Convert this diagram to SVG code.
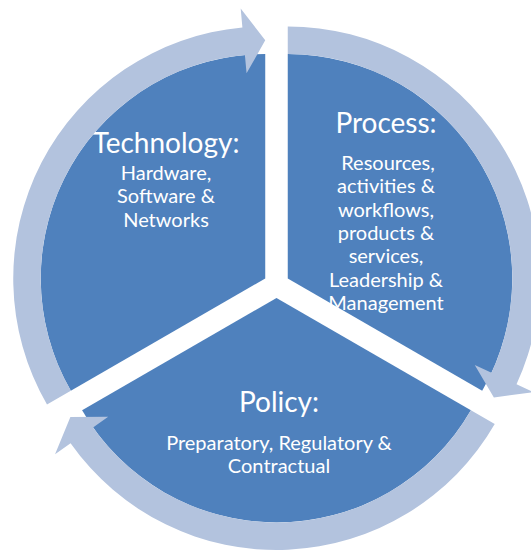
<svg xmlns="http://www.w3.org/2000/svg" width="531" height="551" viewBox="0 0 531 551">
  <style>
    .sector { fill: #4F81BD; }
    .ring { fill: #B3C3DE; }
    .title { font-family: Lato, "Open Sans", sans-serif; font-size: 28px; fill: #FFFFFF; text-anchor: middle; }
    .body { font-family: Lato, "Open Sans", sans-serif; font-size: 20px; fill: #FFFFFF; text-anchor: middle; }
  </style>
  <rect width="531" height="551" fill="#FFFFFF"/>

  <!-- Technology segment (upper left) -->
  <g id="technology">
    <path class="sector" d="M 265.242 278.5 L 70.82 390.75 A 224.5 224.5 0 0 1 265.242 54 Z"/>
    <text class="title" x="166" y="153">Technology:</text>
    <text class="body" x="166" y="180">Hardware,</text>
    <text class="body" x="166" y="203.3">Software &amp;</text>
    <text class="body" x="166" y="226.6">Networks</text>
  </g>

  <!-- Process segment (upper right) -->
  <g id="process">
    <path class="sector" d="M 287.758 278.5 L 287.758 54 A 224.5 224.5 0 0 1 482.18 390.75 Z"/>
    <text class="title" x="386" y="132.7">Process:</text>
    <text class="body" x="388" y="170">Resources,</text>
    <text class="body" x="386" y="193.3">activities &amp;</text>
    <text class="body" x="386" y="216.6">workflows,</text>
    <text class="body" x="386" y="240">products &amp;</text>
    <text class="body" x="386" y="263.3">services,</text>
    <text class="body" x="386" y="286.6">Leadership &amp;</text>
    <text class="body" x="386" y="310">Management</text>
  </g>

  <!-- Policy segment (bottom); drawn after Process so its white surround clips overhanging text -->
  <g id="policy">
    <path class="sector" d="M 276.5 298 L 470.92 410.25 A 224.5 224.5 0 0 1 82.08 410.25 Z"/>
    <text class="title" x="279" y="411.7">Policy:</text>
    <text class="body" x="279" y="450">Preparatory, Regulatory &amp;</text>
    <text class="body" x="279" y="473">Contractual</text>
  </g>

  <!-- Clockwise cycle arrows around the segments -->
  <g id="connectors">
    <path class="ring" d="M 47.00 404.5 A 252 252 0 0 1 242.40 27.54 L 240.68 8.62 L 265.242 40.25 L 246.57 73.35 L 244.89 54.93 A 224.5 224.5 0 0 0 70.82 390.75 Z"/>
    <path class="ring" d="M 287.758 26.5 A 252 252 0 0 1 516.52 384.20 L 533.77 392.17 L 493.87 397.5 L 474.76 364.91 L 491.56 372.67 A 224.5 224.5 0 0 0 287.758 54 Z"/>
    <path class="ring" d="M 494.74 424 A 252 252 0 0 1 70.58 443.26 L 55.05 454.21 L 70.39 417 L 108.17 416.74 L 93.05 427.41 A 224.5 224.5 0 0 0 470.92 410.25 Z"/>
  </g>
</svg>
